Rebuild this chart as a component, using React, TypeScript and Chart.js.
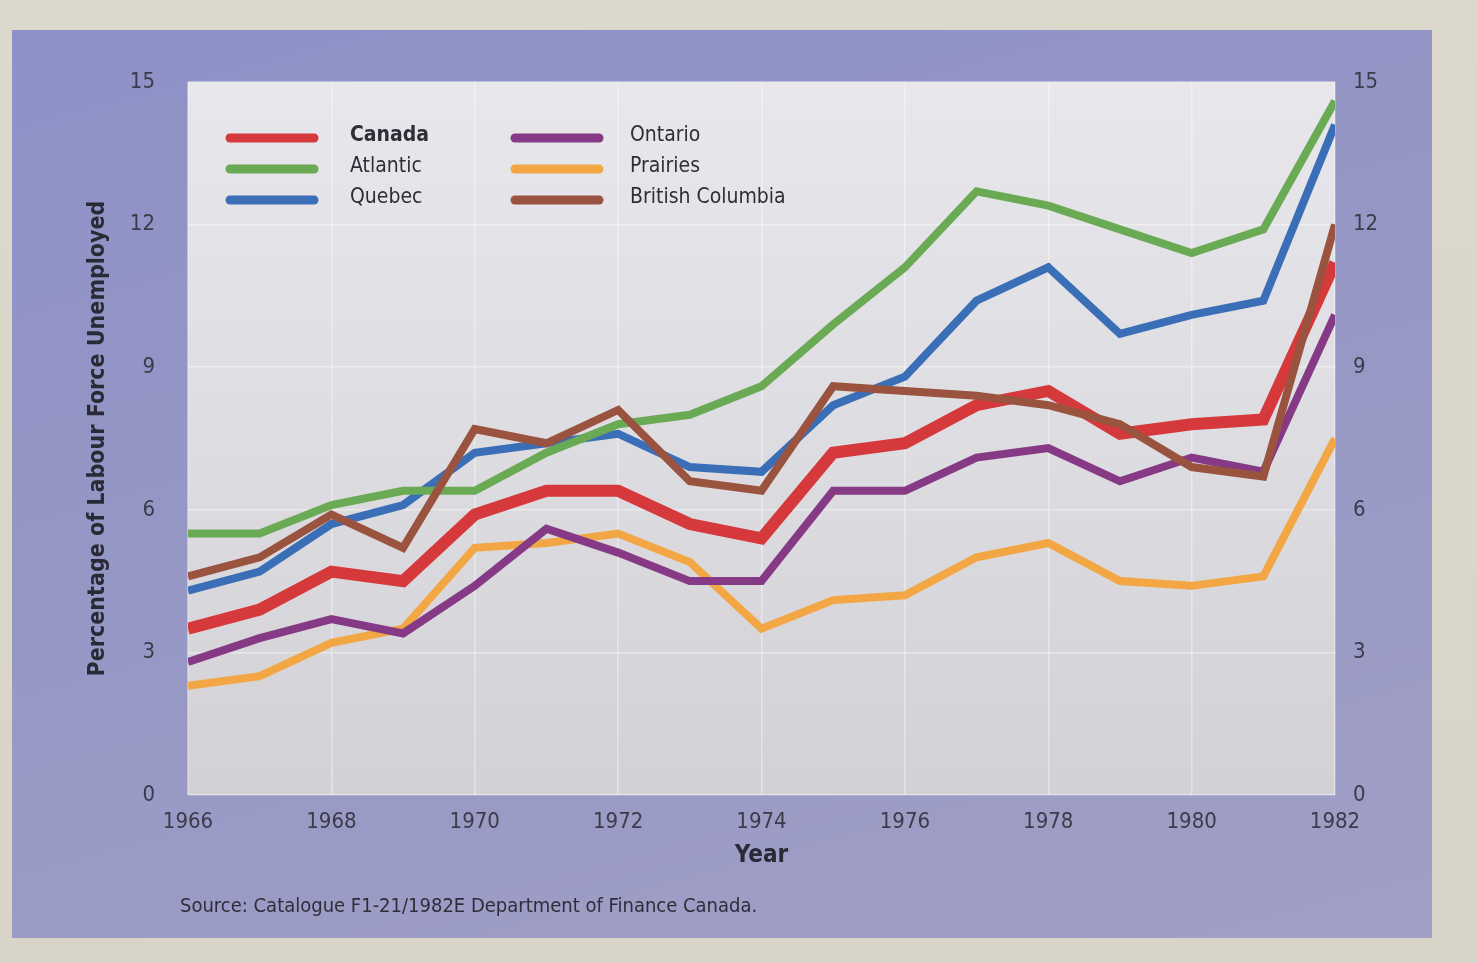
import React, { useEffect, useRef } from "react";
import { Chart, registerables } from "chart.js";

Chart.register(...registerables);

// ---------- data ----------
const years = [1966, 1967, 1968, 1969, 1970, 1971, 1972, 1973, 1974, 1975, 1976, 1977, 1978, 1979, 1980, 1981, 1982];
const canada = [3.5, 3.9, 4.7, 4.5, 5.9, 6.4, 6.4, 5.7, 5.4, 7.2, 7.4, 8.2, 8.5, 7.6, 7.8, 7.9, 11.2];
const atlantic = [5.5, 5.5, 6.1, 6.4, 6.4, 7.2, 7.8, 8.0, 8.6, 9.9, 11.1, 12.7, 12.4, 11.9, 11.4, 11.9, 14.6];
const quebec = [4.3, 4.7, 5.7, 6.1, 7.2, 7.4, 7.6, 6.9, 6.8, 8.2, 8.8, 10.4, 11.1, 9.7, 10.1, 10.4, 14.1];
const ontario = [2.8, 3.3, 3.7, 3.4, 4.4, 5.6, 5.1, 4.5, 4.5, 6.4, 6.4, 7.1, 7.3, 6.6, 7.1, 6.8, 10.1];
const prairies = [2.3, 2.5, 3.2, 3.5, 5.2, 5.3, 5.5, 4.9, 3.5, 4.1, 4.2, 5.0, 5.3, 4.5, 4.4, 4.6, 7.5];
const britishColumbia = [4.6, 5.0, 5.9, 5.2, 7.7, 7.4, 8.1, 6.6, 6.4, 8.6, 8.5, 8.4, 8.2, 7.8, 6.9, 6.7, 12.0];

const seriesLabels = ["Canada", "Atlantic", "Quebec", "Ontario", "Prairies", "British Columbia"];
const seriesValues = [canada, atlantic, quebec, ontario, prairies, britishColumbia];
const seriesColors = ["#d6393b", "#6aaa55", "#3a6fb8", "#863a86", "#f2a744", "#99533f"];
const seriesWidths = [12, 8, 8, 8, 8, 8];
const seriesOrder = [1, 2, 3, 4, 5, 0];

const yMin = 0;
const yMax = 15;
const yStep = 3;
const xMin = 1966;
const xMax = 1982;
const xStep = 2;

const yTitle = "Percentage of Labour Force Unemployed";
const xTitle = "Year";
const sourceText = "Source: Catalogue F1-21/1982E Department of Finance Canada.";

const FONT = '"Liberation Sans Narrow", "DejaVu Sans Condensed", "Roboto", "Liberation Sans", sans-serif';
const TEXT = "#3b3b4a";

const plotBgPlugin = {
  id: "plotBg",
  beforeDraw(chart: any) {
    const { ctx, chartArea } = chart;
    const { left, top, right, bottom } = chartArea;
    const g = ctx.createLinearGradient(0, top, 0, bottom);
    g.addColorStop(0, "#e8e8ec");
    g.addColorStop(1, "#d3d1d5");
    ctx.save();
    ctx.fillStyle = g;
    ctx.fillRect(left, top, right - left, bottom - top);
    ctx.restore();
  },
};

const insideLegendPlugin = {
  id: "insideLegend",
  afterDatasetsDraw(chart: any) {
    const { ctx, chartArea } = chart;
    const { left, top } = chartArea;
    const colLine = [left + 42, left + 327];
    const colText = [left + 162, left + 442];
    const rowY = [top + 54, top + 85, top + 116];
    ctx.save();
    seriesLabels.forEach((label, i) => {
      const col = Math.floor(i / 3);
      const row = i % 3;
      const y = rowY[row];
      ctx.strokeStyle = seriesColors[i];
      ctx.lineWidth = 9;
      ctx.lineCap = "round";
      ctx.beginPath();
      ctx.moveTo(colLine[col], y + 2);
      ctx.lineTo(colLine[col] + 84, y + 2);
      ctx.stroke();
      ctx.fillStyle = "#2e2e38";
      ctx.font = `${i === 0 ? "bold " : ""}21px ${FONT}`;
      ctx.textBaseline = "middle";
      ctx.textAlign = "left";
      ctx.fillText(label, colText[col], y);
    });
    ctx.restore();
  },
};

export default function App() {
  const ref = useRef<HTMLCanvasElement>(null);

  useEffect(() => {
    const canvas = ref.current;
    if (!canvas) return;
    const chart = new Chart(canvas, {
      type: "line",
      data: {
        datasets: seriesLabels.map((label, i) => ({
          label,
          data: years.map((yr, j) => ({ x: yr, y: seriesValues[i][j] })),
          borderColor: seriesColors[i],
          backgroundColor: seriesColors[i],
          borderWidth: seriesWidths[i],
          pointRadius: 0,
          tension: 0,
          fill: false,
          order: seriesOrder[i],
          borderJoinStyle: "miter",
          borderCapStyle: "butt",
        })),
      },
      options: {
        responsive: false,
        animation: false,
        layout: { padding: { top: 82, bottom: 93, left: 0, right: 0 } },
        plugins: {
          legend: { display: false },
          tooltip: { enabled: false },
        },
        scales: {
          x: {
            type: "linear",
            min: xMin,
            max: xMax,
            ticks: {
              stepSize: xStep,
              autoSkip: false,
              maxRotation: 0,
              padding: 14,
              color: TEXT,
              font: { family: FONT, size: 22 },
              callback: (v: any) => String(v),
            },
            grid: { color: "rgba(255,255,255,0.4)", lineWidth: 1.5, drawTicks: false },
            border: { display: false },
            title: {
              display: true,
              text: xTitle,
              color: "#2a2a36",
              font: { family: FONT, size: 24, weight: "bold" },
              padding: 0,
            },
            afterFit: (s: any) => {
              s.height = 75;
            },
          },
          y: {
            type: "linear",
            position: "left",
            min: yMin,
            max: yMax,
            ticks: {
              stepSize: yStep,
              padding: 33,
              color: TEXT,
              font: { family: FONT, size: 22 },
            },
            grid: { color: "rgba(255,255,255,0.4)", lineWidth: 1.5, drawTicks: false },
            border: { display: false },
            title: {
              display: true,
              text: yTitle,
              color: "#2a2a36",
              font: { family: FONT, size: 23, weight: "bold" },
              padding: { top: 84, bottom: 0 },
            },
            afterFit: (s: any) => {
              s.width = 188;
            },
          },
          y2: {
            type: "linear",
            position: "right",
            min: yMin,
            max: yMax,
            ticks: {
              stepSize: yStep,
              padding: 18,
              color: TEXT,
              font: { family: FONT, size: 22 },
            },
            grid: { display: false, drawTicks: false },
            border: { display: false },
            afterFit: (s: any) => {
              s.width = 142;
            },
          },
        },
      } as any,
      plugins: [plotBgPlugin, insideLegendPlugin],
    });
    return () => chart.destroy();
  }, []);

  return (
    <div
      style={{
        position: "fixed",
        left: 0,
        top: 0,
        width: 1477,
        height: 963,
        overflow: "hidden",
        background: "linear-gradient(180deg, #ddd8cc 0%, #d9d4c8 100%)",
      }}
    >
      <div
        style={{
          position: "absolute",
          left: 12,
          top: 30,
          width: 1420,
          height: 908,
          background: "linear-gradient(165deg, #8e91c6 0%, #9597c5 45%, #a09fc5 100%)",
        }}
      />
      <canvas
        ref={ref}
        width={1477}
        height={963}
        style={{ position: "absolute", left: 0, top: 0, width: 1477, height: 963 }}
      />
      <div
        style={{
          position: "absolute",
          left: 180,
          top: 893,
          fontFamily: FONT,
          fontSize: 20,
          color: "#2e2e3a",
          whiteSpace: "nowrap",
        }}
      >
        {sourceText}
      </div>
    </div>
  );
}
